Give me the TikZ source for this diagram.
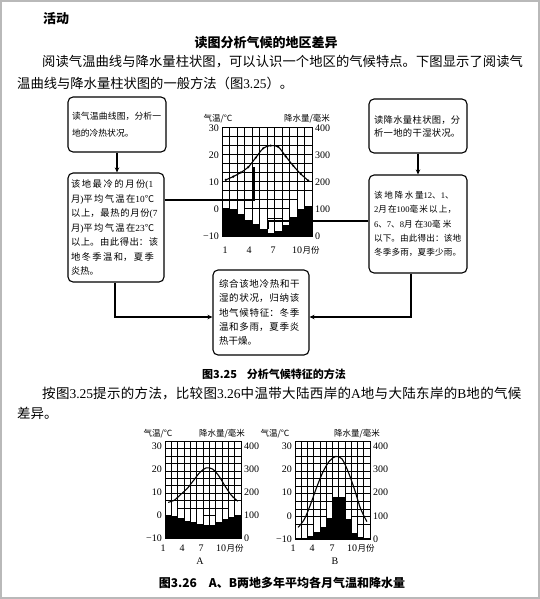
\documentclass[tikz,border=0pt]{standalone}
\usepackage{fontspec}
\setmainfont{Noto Sans CJK SC}
\newfontfamily\numfont{Liberation Serif}
\usetikzlibrary{arrows.meta}
\XeTeXlinebreaklocale "zh"
\XeTeXlinebreakskip=0pt plus 4pt
\setlength\parindent{0pt}
\newcommand\fs[2]{\fontsize{#1}{#2}\selectfont}
\newcommand\nm[1]{{\numfont #1}}
\newcommand\lastline{\par\parfillskip=0pt plus 1fil\relax}
\tikzset{
  box/.style={draw, line width=1.1pt, rounded corners=5pt, inner ysep=2pt},
  conn/.style={line width=1.1pt},
  arr/.style={line width=1.1pt, -{Stealth[length=5pt,width=4.5pt]}},
  hgrid/.style={line width=0.6pt},
  vgrid/.style={line width=0.8pt},
  cframe/.style={line width=1pt},
  curve/.style={line width=1.1pt},
  tick/.style={font={\numfont\fs{10}{11}}, inner sep=0pt},
  ctit/.style={font=\fs{8.5}{9}, inner sep=0pt},
  para/.style={inner sep=0pt, anchor=west}
}
% #1 prefix, #2 L, #3 R, #4 y of 30 / 400, #5 B, #6 precip, #7 temps, #8 white extra, #9 h intervals
% \ftop = y of the frame top
\newcommand\climchart[9]{%
  \pgfmathsetmacro\cw{(#3-#2)/12}%
  \pgfmathsetmacro\chh{(#5-#4)}%
  \pgfmathsetmacro\fh{(#5-\ftop)}%
  \pgfmathtruncatemacro\nh{#9-1}%
  \foreach \k in {1,...,\nh} {\draw[hgrid] (#2,{\ftop+\k*\fh/#9}) -- (#3,{\ftop+\k*\fh/#9});}%
  \foreach \p [count=\i] in {#6} {\fill[white] ({#2+(\i-1)*\cw},#5) rectangle ({#2+\i*\cw},{#5-(\p+#8)/400*\chh});}%
  \foreach \k in {1,...,11} {\draw[vgrid] ({#2+\k*\cw},\ftop) -- ({#2+\k*\cw},#5);}%
  \foreach \p [count=\i] in {#6} {\fill[black] ({#2+(\i-1)*\cw},#5) rectangle ({#2+\i*\cw},{#5-\p/400*\chh});}%
  \draw[cframe] (#2,\ftop) rectangle (#3,#5);%
  \foreach \tt [count=\i] in {#7} {\coordinate (#1\i) at ({#2+(\i-0.5)*\cw},{#5-(\tt+10)/40*\chh});}%
  \draw[curve] plot[smooth] coordinates {(#11)(#12)(#13)(#14)(#15)(#16)(#17)(#18)(#19)(#110)(#111)(#112)};%
  \foreach \v/\w [count=\j from 0] in {30/400,20/300,10/200,0/100,−10/0} {%
    \node[tick,anchor=east] (#1l\j) at ({#2-3},{#4+\j*\chh/4}) {\v};
    \node[tick,anchor=west] (#1r\j) at ({#3+3},{#4+\j*\chh/4}) {\w};}%
}
\begin{document}
\begin{tikzpicture}[x=1pt,y=-1pt]
\useasboundingbox (0,0) rectangle (540,599);
\fill[white] (0,0) rectangle (540,599);
\draw[gray!55, line width=1.2pt] (1,1) rectangle (539,598);

% headings and paragraph
\node[para, font=\bfseries\fs{13}{15}] (hd) at (43,19) {活动};
\node[inner sep=0pt, font=\bfseries\fs{13}{15}] (title) at (266,43) {读图分析气候的地区差异};
\node[para, text width=481pt] (p1a) at (42,62) {\parindent=0pt\noindent\fs{13.3}{16}\parfillskip=0pt 阅读气温曲线与降水量柱状图，可以认识一个地区的气候特点。下图显示了阅读气\par};
\node[para] (p1b) at (17,83) {\fs{13.3}{16}温曲线与降水量柱状图的一般方法（图\nm{3.25}）。};

% chart 1
\def\ftop{127}
\climchart{pa}{222}{312}{128}{236}{105,100,80,60,45,25,12,20,40,70,100,110}{10.8,12,13.5,15.5,19,22.5,23.5,23,19.5,16,13,10.5}{40}{12}
\foreach \i in {1,...,12} {\fill (pa\i) circle (1.2);}
\node[ctit] (pat) at (218,119) {气温/℃};
\node[ctit] (par) at (307,119) {降水量/毫米};
\node[tick] (pm1) at (225,250) {1};
\node[tick] (pm4) at (249,250) {4};
\node[tick] (pm7) at (273,250) {7};
\node[tick,anchor=west] (pm10) at (292,250) {10};
\node[ctit,anchor=west] (pmy) at (pm10.east) {月份};

% boxes
\node[box, text width=90pt, inner xsep=4pt, minimum height=55pt] (b1) at (117,124.5)
 {\parindent=0pt\fs{8.8}{17}\parfillskip=0pt 读气温曲线图，分析一\lastline 地的冷热状况。\par};
\node[box, text width=90pt, inner xsep=3pt, minimum height=109pt] (b2) at (116,227.5)
 {\parindent=0pt\fs{9.3}{14.5}\parfillskip=0pt 该地最冷的月份\nm{(1}\par 月\nm{)}平均气温在\nm{10}℃\par 以上，最热的月份\nm{(7}\par 月\nm{)}平均气温在\nm{23}℃\par 以上。由此得出：该\par 地冬季温和，夏季\lastline 炎热。\par};
\node[box, text width=88pt, inner xsep=5pt, minimum height=54pt] (b3) at (418,126)
 {\parindent=0pt\fs{9.3}{13}\parfillskip=0pt 读降水量柱状图，分\par 析一地的干湿状况。\par};
\node[box, text width=88pt, inner xsep=5pt, minimum height=98pt] (b4) at (418,224)
 {\parindent=0pt\fs{8.6}{14.2}\parfillskip=0pt 该地降水量\nm{12}、\nm{1}、\par \nm{2}月在\nm{100}毫米以上，\par \nm{6}、\nm{7}、\nm{8}月在\nm{30}毫米\par 以下。由此得出：该地\par 冬季多雨，夏季少雨。\par};
\node[box, text width=84pt, inner xsep=6pt, minimum height=85pt] (b5) at (261,312.5)
 {\parindent=0pt\fs{9.5}{14.3}\parfillskip=0pt 综合该地冷热和干\par 湿的状况，归纳该\par 地气候特征：冬季\par 温和多雨，夏季炎\lastline 热干燥。\par};

% connectors
\draw[arr] (b1.south) -- (b1.south |- b2.north);
\draw[arr] (b3.south) -- (b3.south |- b4.north);
\coordinate (k1) at (254,200);
\coordinate (c1) at (254,167);
\draw[conn] (k1 -| b2.east) -- (k1) -- (c1);
\coordinate (k2) at (268,221);
\coordinate (c2) at (268,229);
\draw[conn] (k2 -| b4.west) -- (k2) -- (c2);
\coordinate (k3) at (115,317);
\draw[arr] (k3 |- b2.south) -- (k3) -- (k3 -| b5.west);
\coordinate (k4) at (411,317);
\draw[arr] (k4 |- b4.south) -- (k4) -- (k4 -| b5.east);

% caption 3.25 and paragraph 2
\node[inner sep=0pt, font=\bfseries\fs{11}{13}] (cap1) at (274,374) {图3.25\hspace{0.9em}分析气候特征的方法};
\node[para, text width=481pt] (p2a) at (42,394) {\parindent=0pt\noindent\fs{13.5}{16}\parfillskip=0pt 按图\nm{3.25}提示的方法，比较图\nm{3.26}中温带大陆西岸的\nm{A}地与大陆东岸的\nm{B}地的气候\par};
\node[para] (p2b) at (17,413) {\fs{13.5}{16}差异。};

% chart A
\def\ftop{441}
\climchart{qa}{165}{241}{446}{538}{100,95,85,75,70,62,55,58,70,82,92,100}{5.5,6.5,9,11.5,15,18.5,20.5,20,17,12.5,8.5,6}{38}{13}
\node[ctit] (qat) at (158,434) {气温/℃};
\node[ctit] (qar) at (222,434) {降水量/毫米};
\node[tick] (qm1) at (163,548) {1};
\node[tick] (qm4) at (182,548) {4};
\node[tick] (qm7) at (201,548) {7};
\node[tick,anchor=west] (qm10) at (216,548) {10};
\node[ctit,anchor=west] (qmy) at (qm10.east) {月份};
\node[tick] (lblA) at (200,561) {A};

% chart B
\def\ftop{441}
\climchart{qb}{295}{370}{446}{539}{4,6,15,28,50,92,180,180,85,25,10,5}{-5,-1.5,5,12.5,19,23.5,25.5,24.5,19,11.5,3,-2.5}{38}{13}
\node[ctit] (qbt) at (275,434) {气温/℃};
\node[ctit] (qbr) at (357,434) {降水量/毫米};
\node[tick] (rm1) at (293,548) {1};
\node[tick] (rm4) at (312,548) {4};
\node[tick] (rm7) at (332,548) {7};
\node[tick,anchor=west] (rm10) at (347,548) {10};
\node[ctit,anchor=west] (rmy) at (rm10.east) {月份};
\node[tick] (lblB) at (335,561) {B};

\node[inner sep=0pt, font=\bfseries\fs{12}{14}] (cap2) at (282,583) {图3.26\hspace{1em}A、B两地多年平均各月气温和降水量};
\end{tikzpicture}
\end{document}
